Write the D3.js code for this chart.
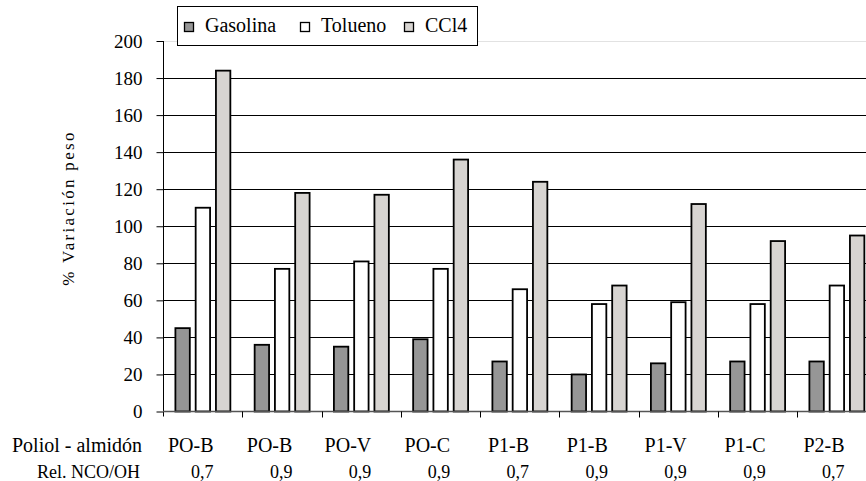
<!DOCTYPE html>
<html>
<head>
<meta charset="utf-8">
<script src="https://cdn.jsdelivr.net/npm/d3@7/dist/d3.min.js"></script>
<style>
  html, body { margin: 0; padding: 0; background: #fff; }
  svg text { font-family: "Liberation Serif", Tinos, "Times New Roman", Times, "Nimbus Roman", "Nimbus Roman No9 L", "FreeSerif", "Noto Serif", "DejaVu Serif", serif; }
</style>
</head>
<body>
<svg id="chart" width="866" height="481"></svg>
<script>
// Sample groups: polyol-starch combination and NCO/OH ratio
const categories = ["PO-B 0,7", "PO-B 0,9", "PO-V 0,9", "PO-C 0,9", "P1-B 0,7", "P1-B 0,9", "P1-V 0,9", "P1-C 0,9", "P2-B 0,7"];
const polyolLabels = ["PO-B", "PO-B", "PO-V", "PO-C", "P1-B", "P1-B", "P1-V", "P1-C", "P2-B"];
const ratioLabels = ["0,7", "0,9", "0,9", "0,9", "0,7", "0,9", "0,9", "0,9", "0,7"];
const seriesNames = ["Gasolina", "Tolueno", "CCl4"];
const seriesColors = ["#969696", "#ffffff", "#d7d4d1"];

// Weight change (%) after immersion in each solvent
const gasolina = [45, 36, 35, 39, 27, 20, 26, 27, 27];
const tolueno = [110, 77, 81, 77, 66, 58, 59, 58, 68];
const ccl4 = [184, 118, 117, 136, 124, 68, 112, 92, 95];
const yTicks = [0, 20, 40, 60, 80, 100, 120, 140, 160, 180, 200];

const seriesValues = [gasolina, tolueno, ccl4];

const svg = d3.select("#chart");

const plotLeft = 163, groupStep = 79.25;
const y = d3.scaleLinear().domain([0, 200]).range([411.5, 41]);
const x0 = d3.scaleBand().domain(categories)
  .range([plotLeft, plotLeft + groupStep * categories.length]).padding(0);
const x1 = d3.scaleBand().domain(seriesNames)
  .range([11.5, x0.bandwidth() - 11]).paddingInner(0.2).paddingOuter(0);
const labelX = d3.scalePoint().domain(categories).range([213.5, 844.5]);

// Gridlines (top one is the light plot-area border)
svg.append("g")
  .selectAll("line")
  .data(yTicks.filter(d => d > 0))
  .join("line")
  .attr("x1", plotLeft).attr("x2", 866)
  .attr("y1", d => Math.round(y(d)) + 0.5).attr("y2", d => Math.round(y(d)) + 0.5)
  .attr("stroke", d => d === 200 ? "#e2e2e2" : "#000")
  .attr("stroke-width", 1);

// Bars
const groups = svg.append("g")
  .selectAll("g")
  .data(categories)
  .join("g")
  .attr("transform", c => `translate(${x0(c)},0)`);

groups.selectAll("rect")
  .data((c, i) => seriesNames.map((s, k) => ({ s, k, v: seriesValues[k][i] })))
  .join("rect")
  .attr("x", d => x1(d.s) + 0.9)
  .attr("width", x1.bandwidth() - 1.8)
  .attr("y", d => y(d.v))
  .attr("height", d => y(0) - y(d.v))
  .attr("fill", d => seriesColors[d.k])
  .attr("stroke", "#000")
  .attr("stroke-width", 1.8);

// Y axis
const yAxis = svg.append("g")
  .attr("transform", `translate(${plotLeft + 0.5},0)`)
  .call(d3.axisLeft(y).tickValues(yTicks).tickSize(7).tickPadding(14).tickSizeOuter(0))
  .attr("font-family", null);
yAxis.select(".domain").attr("stroke", "#000").attr("d", `M0,${y(200)}V${y(0) + 5}`);
yAxis.selectAll(".tick line").attr("stroke", "#000");
yAxis.selectAll(".tick text")
  .attr("font-size", 19)
  .attr("fill", "#000");

// X baseline and group separators
svg.append("line")
  .attr("x1", plotLeft).attr("x2", 866)
  .attr("y1", y(0)).attr("y2", y(0))
  .attr("stroke", "#555").attr("stroke-width", 1.5);
svg.append("g")
  .selectAll("line")
  .data(categories.slice(1))
  .join("line")
  .attr("x1", c => Math.round(x0(c)) + 0.5).attr("x2", c => Math.round(x0(c)) + 0.5)
  .attr("y1", y(0)).attr("y2", y(0) + 6)
  .attr("stroke", "#000");

// Two-row category table under the axis
const table = svg.append("g");
table.append("text").attr("x", 12).attr("y", 452)
  .attr("font-size", 20).text("Poliol - almidón");
table.append("text").attr("x", 37).attr("y", 478)
  .attr("font-size", 18).text("Rel. NCO/OH");
table.append("g").selectAll("text")
  .data(categories)
  .join("text")
  .attr("x", c => labelX(c)).attr("y", 452)
  .attr("text-anchor", "end").attr("font-size", 20)
  .text((c, i) => polyolLabels[i]);
table.append("g").selectAll("text")
  .data(categories)
  .join("text")
  .attr("x", c => labelX(c)).attr("y", 478)
  .attr("text-anchor", "end").attr("font-size", 18)
  .text((c, i) => ratioLabels[i]);

// Y axis title
svg.append("text")
  .attr("transform", "translate(74,208) rotate(-90)")
  .attr("text-anchor", "middle")
  .attr("font-size", 17)
  .attr("letter-spacing", "2.3px")
  .text("% Variación peso");

// Legend
const legend = svg.append("g");
legend.append("rect")
  .attr("x", 177.5).attr("y", 6.5).attr("width", 300).attr("height", 39)
  .attr("fill", "#fff").attr("stroke", "#000");
const legendX = [184, 300, 404];
const item = legend.selectAll("g.item")
  .data(seriesNames)
  .join("g").attr("class", "item")
  .attr("transform", (d, i) => `translate(${legendX[i]},0)`);
item.append("rect")
  .attr("x", 0.5).attr("y", 22.5).attr("width", 9).attr("height", 9)
  .attr("fill", (d, i) => seriesColors[i])
  .attr("stroke", "#000").attr("stroke-width", 1.3);
item.append("text")
  .attr("x", 21).attr("y", 32)
  .attr("font-size", 20)
  .text(d => d);
</script>
</body>
</html>
